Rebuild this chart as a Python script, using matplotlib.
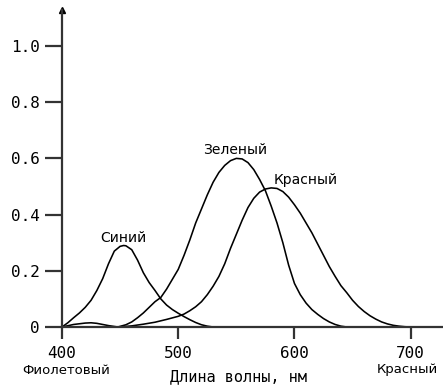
import numpy as np
import matplotlib
matplotlib.use('Agg')
import matplotlib.pyplot as plt
import matplotlib.transforms as mtransforms

# Кривые чувствительности колбочек
nm_blue = [400, 405, 410, 415, 420, 425, 430, 435, 440, 445, 450, 453, 455, 460, 465,
           470, 475, 480, 485, 490, 495, 500, 505, 510, 515, 520, 525, 530]
val_blue = [0, 0.015, 0.033, 0.05, 0.07, 0.095, 0.13, 0.172, 0.225, 0.27, 0.287, 0.29,
            0.289, 0.275, 0.238, 0.193, 0.158, 0.13, 0.1, 0.078, 0.062, 0.049, 0.037,
            0.026, 0.016, 0.008, 0.003, 0]

nm_green = [448, 455, 460, 465, 470, 475, 480, 485, 490, 495, 500, 505, 510, 515, 520,
            525, 530, 535, 540, 545, 550, 555, 560, 565, 570, 575, 580, 585, 590, 595,
            600, 605, 610, 615, 620, 625, 630, 635, 640, 645]
val_green = [0, 0.008, 0.018, 0.033, 0.05, 0.07, 0.09, 0.105, 0.135, 0.17, 0.205, 0.255,
             0.31, 0.37, 0.42, 0.47, 0.515, 0.55, 0.575, 0.592, 0.6, 0.598, 0.585, 0.56,
             0.525, 0.485, 0.43, 0.37, 0.3, 0.22, 0.155, 0.115, 0.085, 0.062, 0.045,
             0.03, 0.018, 0.009, 0.003, 0]

nm_red = [400, 410, 420, 425, 430, 440, 448, 455, 460, 470, 480, 490, 500, 505, 510, 515,
          520, 525, 530, 535, 540, 545, 550, 555, 560, 565, 570, 575, 580, 585, 590, 595,
          600, 605, 610, 615, 620, 625, 630, 635, 640, 645, 650, 655, 660, 665, 670, 675,
          680, 685, 690, 695, 700]
val_red = [0, 0.009, 0.014, 0.015, 0.013, 0.005, 0, 0.002, 0.004, 0.01, 0.017, 0.027,
           0.038, 0.046, 0.058, 0.072, 0.09, 0.115, 0.145, 0.18, 0.225, 0.28, 0.33, 0.38,
           0.425, 0.458, 0.48, 0.491, 0.495, 0.493, 0.482, 0.462, 0.435, 0.405, 0.37, 0.335,
           0.295, 0.255, 0.215, 0.18, 0.147, 0.122, 0.095, 0.073, 0.055, 0.04, 0.028,
           0.018, 0.011, 0.006, 0.003, 0.001, 0]

xticks = [400, 500, 600, 700]
yticks = [0, 0.2, 0.4, 0.6, 0.8, 1.0]
ylabels = ['0', '0.2', '0.4', '0.6', '0.8', '1.0']

fig = plt.figure(figsize=(4.43, 3.85), dpi=100)
ax = fig.add_axes([62/443, 58/385, 381/443, 317/385])

ax.plot(nm_blue, val_blue, color='black', lw=1.15)
ax.plot(nm_green, val_green, color='black', lw=1.15)
ax.plot(nm_red, val_red, color='black', lw=1.15)

ax.set_xlim(400, 727.8)
ax.set_ylim(0, 1.128)

for s in ['top', 'right']:
    ax.spines[s].set_visible(False)
for s in ['left', 'bottom']:
    ax.spines[s].set_color('#333333')
    ax.spines[s].set_linewidth(1.6)

# стрелка на оси y
ax.plot(0, 1, marker='^', color='black', markersize=5, transform=ax.transAxes, clip_on=False)

mono = 'DejaVu Sans Mono'
ax.set_xticks(xticks)
ax.set_xticklabels([str(t) for t in xticks], family=mono, fontsize=11.5)
ax.set_yticks(yticks)
ax.set_yticklabels(ylabels, family=mono, fontsize=11.5)
ax.tick_params(axis='y', direction='out', length=12, width=1.6, color='#333333', pad=4)
ax.tick_params(axis='x', direction='out', length=8.5, width=1.6, color='#333333', pad=5)

# подписи кривых
ax.text(452.5, 0.317, 'Синий', ha='center', va='center', fontsize=10)
ax.text(549, 0.63, 'Зеленый', ha='center', va='center', fontsize=10)
ax.text(610, 0.523, 'Красный', ha='center', va='center', fontsize=10)

trans = mtransforms.blended_transform_factory(ax.transData, fig.transFigure)
ax.text(403.5, 1 - 370/385, 'Фиолетовый', ha='center', va='center', fontsize=9.5, transform=trans)
ax.text(697.5, 1 - 370/385, 'Красный', ha='center', va='center', fontsize=9.5, transform=trans)
ax.text(552, 1 - 369/385, 'Длина волны, нм', ha='center', va='top', family=mono,
        fontsize=11, transform=trans)

plt.savefig('out.png', dpi=100)
